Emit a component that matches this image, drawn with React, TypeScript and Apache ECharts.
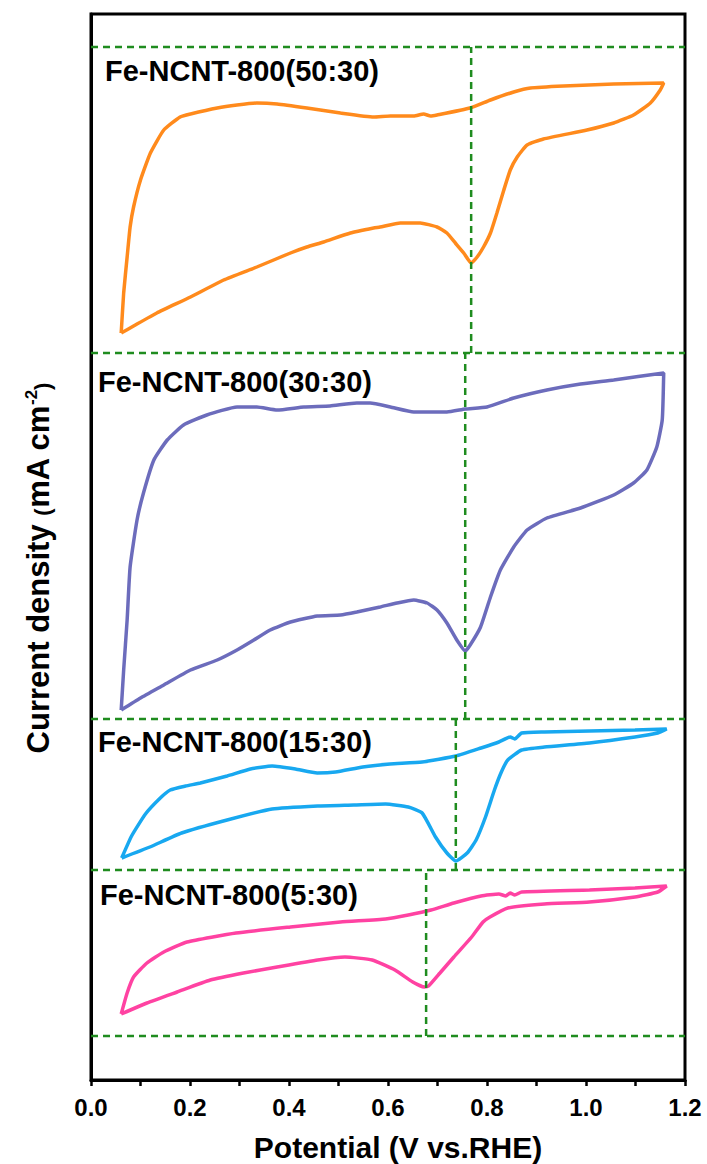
import React, { useEffect, useRef } from "react";
import * as echarts from "echarts";

// Sample names and the peak potentials (V vs. RHE) marked by the vertical dashed lines
const sampleNames = [
  "Fe-NCNT-800(50:30)",
  "Fe-NCNT-800(30:30)",
  "Fe-NCNT-800(15:30)",
  "Fe-NCNT-800(5:30)",
];
const peakPotentials = [0.768, 0.756, 0.737, 0.677];

// Vertical offsets (arbitrary current units) of each stacked CV, i.e. its lower dashed baseline
const baselineOffsets = [727, 361, 210, 44];
const topBaseline = 1033;
const yMax = 1066;

// X tick labels
const xTickValues = [0.0, 0.2, 0.4, 0.6, 0.8, 1.0, 1.2];

// CV loops: [potential (V), current (a.u., relative to the panel baseline)]
const cv50 = [
  [0.061, 20], [0.066, 60], [0.073, 96], [0.079, 126], [0.086, 146], [0.1, 173],
  [0.12, 200], [0.147, 223], [0.18, 236], [0.201, 239], [0.255, 245], [0.295, 248],
  [0.335, 250], [0.376, 249], [0.436, 245], [0.504, 240], [0.571, 236], [0.605, 237],
  [0.652, 237], [0.672, 239], [0.686, 237], [0.699, 238], [0.766, 245], [0.807, 253],
  [0.854, 261], [0.888, 265], [0.955, 267], [1.056, 269], [1.157, 270],
  [1.15, 263], [1.13, 250], [1.096, 238], [1.056, 230], [1.002, 223], [0.914, 214],
  [0.881, 208], [0.861, 196], [0.847, 183], [0.834, 163], [0.82, 140], [0.807, 120],
  [0.793, 106], [0.78, 96], [0.768, 90], [0.753, 100], [0.736, 110], [0.719, 120],
  [0.699, 126], [0.665, 130], [0.625, 130], [0.584, 126], [0.571, 125], [0.524, 120],
  [0.47, 111], [0.436, 106], [0.403, 100], [0.335, 86], [0.268, 73], [0.201, 56],
  [0.133, 40], [0.086, 27], [0.061, 20],
];
const cv30 = [
  [0.061, 9], [0.066, 49], [0.073, 99], [0.079, 152], [0.093, 199], [0.106, 226],
  [0.127, 259], [0.154, 279], [0.187, 294], [0.234, 304], [0.295, 312], [0.335, 312],
  [0.376, 309], [0.43, 312], [0.483, 313], [0.537, 316], [0.564, 316], [0.605, 312],
  [0.652, 307], [0.719, 307], [0.756, 310], [0.8, 312], [0.854, 321], [0.921, 329],
  [0.989, 335], [1.056, 339], [1.157, 346],
  [1.154, 299], [1.143, 272], [1.123, 249], [1.096, 236], [1.056, 224], [0.989, 211],
  [0.921, 201], [0.881, 189], [0.854, 172], [0.827, 149], [0.807, 122], [0.787, 92],
  [0.766, 74], [0.756, 68], [0.739, 79], [0.719, 96], [0.699, 109], [0.679, 116],
  [0.652, 119], [0.618, 116], [0.584, 112], [0.537, 107], [0.504, 104], [0.457, 103],
  [0.403, 97], [0.362, 89], [0.329, 79], [0.295, 69], [0.255, 59], [0.201, 49],
  [0.147, 34], [0.1, 21], [0.061, 9],
];
const cv15 = [
  [0.062, 12], [0.082, 34], [0.11, 56], [0.14, 72], [0.16, 80], [0.191, 84],
  [0.221, 87], [0.275, 94], [0.322, 101], [0.366, 104], [0.413, 101], [0.457, 97],
  [0.494, 98], [0.549, 103], [0.604, 106], [0.669, 108], [0.737, 114], [0.788, 122],
  [0.824, 128], [0.847, 133], [0.856, 131], [0.87, 137], [0.916, 138], [1.007, 139],
  [1.099, 140], [1.163, 141],
  [1.145, 137], [1.099, 133], [1.007, 127], [0.916, 123], [0.87, 120], [0.842, 110],
  [0.829, 98], [0.815, 80], [0.797, 53], [0.778, 30], [0.76, 17], [0.737, 9],
  [0.719, 17], [0.696, 33], [0.669, 57], [0.641, 63], [0.595, 66], [0.531, 65],
  [0.458, 64], [0.366, 61], [0.275, 50], [0.183, 37], [0.119, 23], [0.062, 12],
];
const cv5 = [
  [0.061, 22], [0.073, 43], [0.086, 59], [0.113, 73], [0.147, 84], [0.194, 94],
  [0.293, 103], [0.403, 109], [0.504, 114], [0.595, 117], [0.641, 121], [0.687, 126],
  [0.733, 133], [0.788, 140], [0.824, 142], [0.838, 140], [0.847, 143], [0.856, 141],
  [0.87, 144], [1.007, 146], [1.099, 148], [1.163, 150],
  [1.145, 144], [1.099, 139], [1.007, 134], [0.916, 132], [0.842, 128], [0.806, 119],
  [0.792, 114], [0.769, 99], [0.733, 79], [0.705, 63], [0.682, 50], [0.673, 49],
  [0.65, 54], [0.614, 66], [0.568, 76], [0.513, 79], [0.458, 76], [0.376, 69],
  [0.308, 63], [0.241, 56], [0.174, 44], [0.113, 33], [0.061, 22],
];
const cvData = [cv50, cv30, cv15, cv5];

const curveColors = ["#FF8A1C", "#6C6CBC", "#18A8F0", "#FF42A2"];
const guideColor = "#1F8C1F";
const FONT = "'Liberation Sans', Arial, Helvetica, sans-serif";

export default function App() {
  const ref = useRef<HTMLDivElement>(null);

  useEffect(() => {
    if (!ref.current) return;
    const chart = echarts.init(ref.current, null, { renderer: "svg" });

    const curveSeries = cvData.map((loop, i) => ({
      type: "line",
      name: sampleNames[i],
      data: loop.map(([v, j]) => [v, j + baselineOffsets[i]]),
      symbol: "none",
      showSymbol: false,
      smooth: 0.15,
      lineStyle: { color: curveColors[i], width: 3.5 },
      z: 2,
    }));

    const hLines = [topBaseline, ...baselineOffsets].map((y) => ({
      type: "line",
      data: [
        [0, y],
        [1.2, y],
      ],
      symbol: "none",
      lineStyle: { color: guideColor, width: 2.5, type: [7, 5] },
      z: 3,
      silent: true,
    }));

    const vLines = peakPotentials.map((p, i) => ({
      type: "line",
      data: [
        [p, baselineOffsets[i]],
        [p, i === 0 ? topBaseline : baselineOffsets[i - 1]],
      ],
      symbol: "none",
      lineStyle: { color: guideColor, width: 2.5, type: [7, 5] },
      z: 3,
      silent: true,
    }));

    const labelY = [71, 382, 742, 895];
    const labelX = [105, 98, 98, 100];

    chart.setOption({
      animation: false,
      backgroundColor: "#ffffff",
      grid: {
        left: 91,
        right: 22,
        top: 14,
        bottom: 84,
        show: true,
        borderColor: "#000",
        borderWidth: 3,
        backgroundColor: "transparent",
      },
      xAxis: {
        type: "value",
        min: 0,
        max: 1.2,
        interval: 0.2,
        axisLine: { show: true, lineStyle: { color: "#000", width: 3 } },
        axisTick: { show: true, length: 6, lineStyle: { color: "#000", width: 2.5 } },
        minorTick: { show: true, splitNumber: 2, length: 6, lineStyle: { color: "#000", width: 2.5 } },
        splitLine: { show: false },
        axisLabel: {
          margin: 15,
          color: "#000",
          fontFamily: FONT,
          fontWeight: "bold",
          fontSize: 24,
          formatter: (v: number) => {
            const t = xTickValues.find((x) => Math.abs(x - v) < 1e-6);
            return t === undefined ? "" : t.toFixed(1);
          },
        },
      },
      yAxis: {
        type: "value",
        min: 0,
        max: yMax,
        axisLine: { show: true, lineStyle: { color: "#000", width: 3 } },
        axisTick: { show: false },
        axisLabel: { show: false },
        splitLine: { show: false },
      },
      graphic: [
        ...sampleNames.map((name, i) => ({
          type: "text",
          x: labelX[i],
          y: labelY[i],
          z: 10,
          style: {
            text: name,
            fill: "#000",
            font: `bold 29px ${FONT}`,
            align: "left",
            verticalAlign: "middle",
          },
        })),
        {
          type: "text",
          x: 398,
          y: 1147,
          style: {
            text: "Potential (V vs.RHE)",
            fill: "#000",
            font: `bold 30px ${FONT}`,
            align: "center",
            verticalAlign: "middle",
          },
        },
        {
          type: "text",
          x: 38,
          y: 568,
          rotation: Math.PI / 2,
          style: {
            text: "{a|Current density }{b|(}{a|mA cm}{c|-2}{b|)}",
            align: "center",
            verticalAlign: "middle",
            fill: "#000",
            rich: {
              a: { fontFamily: FONT, fontWeight: "bold", fontSize: 31, fill: "#000", verticalAlign: "bottom" },
              b: { fontFamily: FONT, fontWeight: "bold", fontSize: 22, fill: "#000", verticalAlign: "bottom" },
              c: { fontFamily: FONT, fontWeight: "bold", fontSize: 17, fill: "#000", verticalAlign: "top" },
            },
          },
        },
      ],
      series: [...curveSeries, ...hLines, ...vLines],
    });

    return () => chart.dispose();
  }, []);

  return (
    <div
      ref={ref}
      style={{ position: "fixed", left: 0, top: 0, width: 707, height: 1164, background: "#fff" }}
    />
  );
}
